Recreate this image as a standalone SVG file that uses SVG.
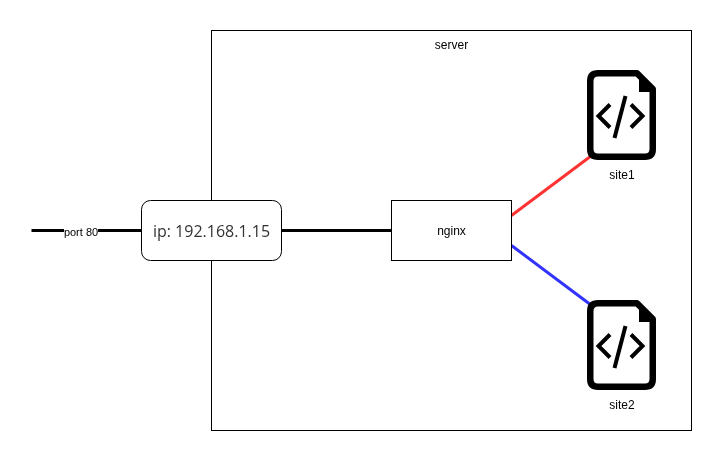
<svg xmlns="http://www.w3.org/2000/svg" width="722" height="462" viewBox="0 0 722 462" style="will-change:transform">
<style>
.box{fill:#fff;stroke:#000;stroke-width:1}
.t{font-family:"Liberation Sans",Arial,sans-serif;font-size:12px;fill:#000;text-anchor:middle}
.c{fill:none;stroke-width:3}
.ip{font-family:"Open Sans","Noto Sans",sans-serif;font-size:16px;fill:#333;text-anchor:middle}
.doc{fill:#fff;stroke:#000;stroke-width:6.500;stroke-linejoin:round}
.code{fill:none;stroke:#000;stroke-width:4}
</style>
<defs>
<g id="file">
<path class="doc" d="M598 73.250H637L652.750 89V149Q652.750 156.750 645 156.750H598Q590.250 156.750 590.250 149V81Q590.250 73.250 598 73.250Z"/>
<path d="M639 72L655 88V92H639Z" fill="#000"/>
<path class="code" d="M610 104.500L598.500 116L610 127.500M631 104.500L642.500 116L631 127.500M625.500 96L614.500 138"/>
</g>
</defs>
<g id="server"><rect class="box" x="211.500" y="30.500" width="480" height="400"/><text class="t" x="451.500" y="49">server</text></g>
<g id="connectors">
<path class="c" stroke="#000" d="M31.500 230.500H141.500"/>
<path class="c" stroke="#000" d="M281.500 230.500H391.500"/>
<path class="c" stroke="#f33" d="M511.500 215.500L591 156"/>
<path class="c" stroke="#33f" d="M511.500 245.500L591 305"/>
<rect x="64" y="224" width="34" height="14" fill="#fff"/>
<text class="t" x="81" y="236" style="font-size:11px">port 80</text>
</g>
<g id="ip"><rect class="box" x="141.500" y="200.500" width="140" height="60" rx="9" ry="9"/><text class="ip" x="211.500" y="236.500">ip: 192.168.1.15</text></g>
<g id="nginx"><rect class="box" x="391.500" y="200.500" width="120" height="60"/><text class="t" x="451.500" y="235">nginx</text></g>
<g id="site1"><use href="#file"/><text class="t" x="622" y="179">site1</text></g>
<g id="site2"><use href="#file" y="230"/><text class="t" x="622" y="409">site2</text></g>
</svg>
